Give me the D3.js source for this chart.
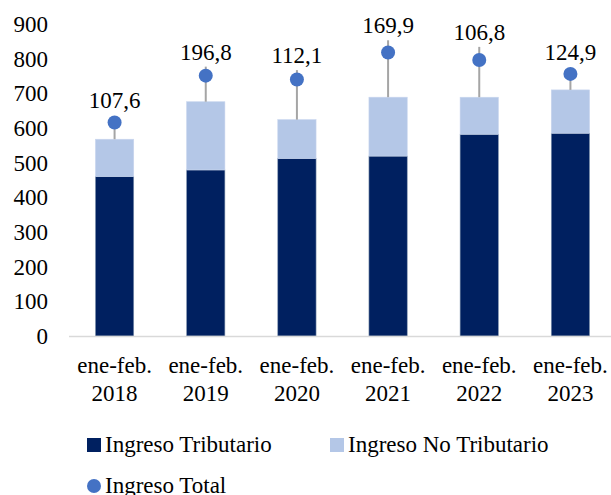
<!DOCTYPE html>
<html>
<head>
<meta charset="utf-8">
<script src="https://cdn.jsdelivr.net/npm/d3@7"></script>
<style>
  body { margin: 0; background: #fff; }
</style>
</head>
<body>
<svg width="611" height="495"></svg>
<script>
var years = ["2018", "2019", "2020", "2021", "2022", "2023"];
var periodo = "ene-feb.";
var tributario = [460, 479, 512, 519, 582, 585];
var noTributario = [107.6, 196.8, 112.1, 169.9, 106.8, 124.9];
var total = [616, 751, 740, 818, 796, 756];
var lineaTop = [623, 777, 767, 853, 834, 756];
var yTicks = [0, 100, 200, 300, 400, 500, 600, 700, 800, 900];

var fuente = "'Liberation Serif', 'Times New Roman', Times, serif";

var svg = d3.select("svg")
    .attr("font-family", fuente);

var xScale = d3.scaleBand()
    .domain(years)
    .range([69, 616])
    .paddingInner(0.58)
    .paddingOuter(0.29);

var yScale = d3.scaleLinear()
    .domain([0, 900])
    .range([336, 24]);

// eje y (solo etiquetas)
var yAxis = d3.axisLeft(yScale)
    .tickValues(yTicks)
    .tickSize(0)
    .tickPadding(0);

var gy = svg.append("g")
    .attr("transform", "translate(48,0)")
    .call(yAxis)
    .attr("font-family", fuente)
    .attr("font-size", 23);
gy.select(".domain").remove();
gy.selectAll("text")
    .attr("fill", "#000")
    .attr("dy", "0.33em");

var data = years.map(function(y, i) {
    return {year: y, trib: tributario[i], noTrib: noTributario[i], total: total[i], top: lineaTop[i]};
});

var cx = function(d) { return xScale(d.year) + xScale.bandwidth() / 2; };

// barras
svg.selectAll("rect.trib")
    .data(data)
    .enter()
    .append("rect")
    .attr("class", "trib")
    .attr("x", function(d) { return xScale(d.year); })
    .attr("width", xScale.bandwidth())
    .attr("y", function(d) { return yScale(d.trib); })
    .attr("height", function(d) { return yScale(0) - yScale(d.trib); })
    .attr("fill", "#002060")
    .attr("stroke", "#8497b0")
    .attr("stroke-width", 0.6);

svg.selectAll("rect.notrib")
    .data(data)
    .enter()
    .append("rect")
    .attr("class", "notrib")
    .attr("x", function(d) { return xScale(d.year); })
    .attr("width", xScale.bandwidth())
    .attr("y", function(d) { return yScale(d.trib + d.noTrib); })
    .attr("height", function(d) { return yScale(d.trib) - yScale(d.trib + d.noTrib); })
    .attr("fill", "#b4c7e7")
    .attr("stroke", "#c9d6ee")
    .attr("stroke-width", 0.6);

// linea base
svg.append("line")
    .attr("x1", 69)
    .attr("x2", 611)
    .attr("y1", yScale(0) + 0.5)
    .attr("y2", yScale(0) + 0.5)
    .attr("stroke", "#d9d9d9")
    .attr("stroke-width", 1.5);

// lineas grises
svg.selectAll("line.whisker")
    .data(data)
    .enter()
    .append("line")
    .attr("class", "whisker")
    .attr("x1", cx)
    .attr("x2", cx)
    .attr("y1", function(d) { return yScale(d.trib + d.noTrib); })
    .attr("y2", function(d) { return yScale(d.top); })
    .attr("stroke", "#a5a5a5")
    .attr("stroke-width", 2);

// puntos
svg.selectAll("circle.total")
    .data(data)
    .enter()
    .append("circle")
    .attr("class", "total")
    .attr("cx", cx)
    .attr("cy", function(d) { return yScale(d.total); })
    .attr("r", 7)
    .attr("fill", "#4472c4");

// etiquetas
svg.selectAll("text.lbl")
    .data(data)
    .enter()
    .append("text")
    .attr("class", "lbl")
    .attr("x", cx)
    .attr("y", function(d) { return Math.min(yScale(d.top), yScale(d.total) - 7) - 7; })
    .attr("text-anchor", "middle")
    .attr("font-size", 23)
    .text(function(d) { return d3.format(".1f")(d.noTrib).replace(".", ","); });

// eje x
svg.append("g").selectAll("text")
    .data(years)
    .enter()
    .append("text")
    .attr("y", 373)
    .attr("text-anchor", "middle")
    .attr("font-size", 23)
    .each(function(d) {
        var x = xScale(d) + xScale.bandwidth() / 2;
        d3.select(this).append("tspan").attr("x", x).text(periodo);
        d3.select(this).append("tspan").attr("x", x).attr("dy", 28).text(d);
    });

// leyenda
var legend = svg.append("g").attr("font-size", 23);
legend.append("rect").attr("x", 87).attr("y", 438).attr("width", 14).attr("height", 14).attr("fill", "#002060");
legend.append("text").attr("x", 105).attr("y", 452).text("Ingreso Tributario");
legend.append("rect").attr("x", 330).attr("y", 438).attr("width", 14).attr("height", 14).attr("fill", "#b4c7e7");
legend.append("text").attr("x", 348).attr("y", 452).text("Ingreso No Tributario");
legend.append("circle").attr("cx", 94).attr("cy", 486).attr("r", 7).attr("fill", "#4472c4");
legend.append("text").attr("x", 105).attr("y", 493).text("Ingreso Total");
</script>
</body>
</html>
